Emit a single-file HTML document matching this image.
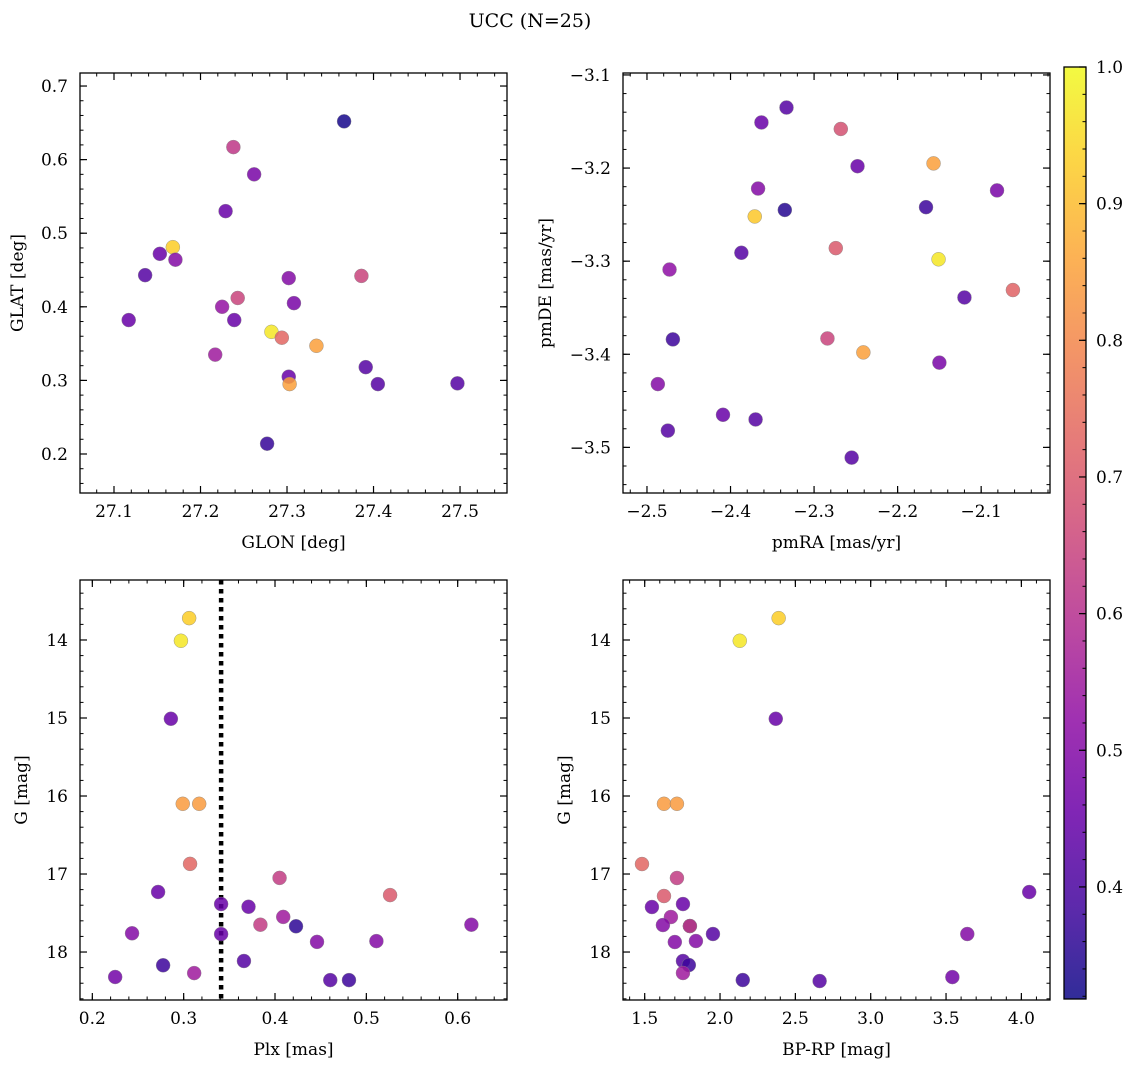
<!DOCTYPE html>
<html><head><meta charset="utf-8">
<style>
html,body{margin:0;padding:0;background:#fff;}
svg{display:block;font-family:"DejaVu Serif","Liberation Serif",serif;}
</style></head>
<body>
<svg id="fig" width="1136" height="1067" viewBox="0 0 1136 1067" xmlns="http://www.w3.org/2000/svg">
<defs>
<linearGradient id="cbgrad" x1="0" y1="1" x2="0" y2="0">
<stop offset="0" stop-color="#0d0887"/><stop offset="0.1" stop-color="#41049d"/><stop offset="0.2" stop-color="#6a00a8"/><stop offset="0.3" stop-color="#8f0da4"/><stop offset="0.4" stop-color="#b12a90"/><stop offset="0.5" stop-color="#cc4778"/><stop offset="0.6" stop-color="#e16462"/><stop offset="0.7" stop-color="#f2844b"/><stop offset="0.8" stop-color="#fca636"/><stop offset="0.9" stop-color="#fcce25"/><stop offset="1" stop-color="#f0f921"/>
</linearGradient>
</defs>
<text x="530" y="27" font-size="19" text-anchor="middle">UCC (N=25)</text>
</svg>
<script>
// ---- data ----
const glon = [27.366,27.238,27.262,27.229,27.168,27.153,27.171,27.136,27.386,27.302,27.243,27.308,27.225,27.117,27.239,27.282,27.294,27.334,27.217,27.391,27.302,27.303,27.405,27.497,27.277];
const glat = [0.652,0.617,0.580,0.530,0.481,0.472,0.464,0.443,0.442,0.439,0.412,0.405,0.400,0.382,0.382,0.366,0.358,0.347,0.335,0.318,0.305,0.295,0.295,0.296,0.214];
const probA = [0.33,0.62,0.48,0.45,0.93,0.45,0.50,0.42,0.65,0.50,0.65,0.48,0.53,0.45,0.45,0.97,0.73,0.85,0.55,0.42,0.45,0.85,0.42,0.42,0.37];

const pmra = [-2.333,-2.363,-2.268,-2.248,-2.157,-2.367,-2.081,-2.371,-2.335,-2.166,-2.274,-2.387,-2.151,-2.473,-2.062,-2.120,-2.469,-2.284,-2.241,-2.150,-2.487,-2.409,-2.475,-2.370,-2.255];
const pmde = [-3.135,-3.151,-3.158,-3.198,-3.195,-3.222,-3.224,-3.252,-3.245,-3.242,-3.286,-3.291,-3.298,-3.309,-3.331,-3.339,-3.384,-3.383,-3.398,-3.409,-3.432,-3.465,-3.482,-3.470,-3.511];
const probB = [0.42,0.45,0.68,0.45,0.85,0.50,0.48,0.92,0.35,0.38,0.70,0.42,0.97,0.52,0.72,0.42,0.38,0.65,0.85,0.48,0.50,0.45,0.42,0.42,0.42];

const plx = [0.306,0.297,0.286,0.299,0.317,0.307,0.405,0.272,0.341,0.371,0.526,0.615,0.409,0.384,0.423,0.2435,0.341,0.446,0.511,0.366,0.2775,0.3115,0.225,0.4605,0.481];
const gmagC = [13.72,14.01,15.01,16.10,16.10,16.87,17.05,17.23,17.385,17.42,17.27,17.65,17.55,17.65,17.67,17.76,17.77,17.87,17.86,18.115,18.17,18.27,18.32,18.36,18.36];
const probC = [0.93,0.97,0.45,0.84,0.84,0.73,0.63,0.45,0.45,0.45,0.70,0.50,0.55,0.63,0.36,0.50,0.45,0.50,0.50,0.42,0.38,0.55,0.47,0.42,0.38];
const plxLine = 0.341;

const bprp = [1.482,1.714,1.628,1.548,1.754,1.674,1.621,1.800,1.800,1.953,1.700,1.840,1.754,1.793,1.754,2.151,2.661,3.542,3.641,4.052,2.389,2.131,2.370,1.628,1.714];
const gmagD = [16.872,17.051,17.282,17.423,17.385,17.551,17.654,17.667,17.667,17.769,17.872,17.859,18.115,18.167,18.269,18.359,18.372,18.321,17.769,17.231,13.72,14.01,15.01,16.10,16.10];
const probD = [0.73,0.63,0.70,0.45,0.45,0.55,0.50,0.36,0.63,0.42,0.50,0.50,0.42,0.38,0.55,0.38,0.42,0.47,0.50,0.45,0.93,0.97,0.45,0.84,0.84];

const ticksA_x = [27.1,27.2,27.3,27.4,27.5];
const ticksA_y = [0.2,0.3,0.4,0.5,0.6,0.7];
const ticksB_x = [-2.5,-2.4,-2.3,-2.2,-2.1];
const ticksB_y = [-3.5,-3.4,-3.3,-3.2,-3.1];
const ticksC_x = [0.2,0.3,0.4,0.5,0.6];
const ticksG = [14,15,16,17,18];
const ticksD_x = [1.5,2.0,2.5,3.0,3.5,4.0];
const ticksCb = [0.4,0.5,0.6,0.7,0.8,0.9,1.0];

const VMIN = 0.318, VMAX = 1.0;
const NS = "http://www.w3.org/2000/svg";
const svg = document.getElementById('fig');
const stops = [[13,8,135],[65,4,157],[106,0,168],[143,13,164],[177,42,144],[204,71,120],[225,100,98],[242,132,75],[252,166,54],[252,206,37],[240,249,33]];
function plasma(v){
  let t=(v-VMIN)/(VMAX-VMIN); t=Math.max(0,Math.min(1,t));
  const f=t*10, i=Math.min(9,Math.floor(f)), r=f-i;
  const c=stops[i].map((a,k)=>Math.round(a+(stops[i+1][k]-a)*r));
  return `rgb(${c[0]},${c[1]},${c[2]})`;
}
function el(tag, attrs, parent){
  const e=document.createElementNS(NS,tag);
  for(const k in attrs) e.setAttribute(k,attrs[k]);
  (parent||svg).appendChild(e); return e;
}
function fmt(v,d){ const s=v.toFixed(d); return v<0 ? '\u2212'+s.slice(1) : s; }

function panel(o){
  const g=el('g',{});
  
  
  const sx=v=>o.x0+(v-o.xmin)/(o.xmax-o.xmin)*(o.x1-o.x0);
  const sy=o.invert ? v=>o.y0+(v-o.ymin)/(o.ymax-o.ymin)*(o.y1-o.y0)
                    : v=>o.y1-(v-o.ymin)/(o.ymax-o.ymin)*(o.y1-o.y0);
  const xm=o.xstep/5, ym=o.ystep/5;
  for(let k=Math.ceil(o.xmin/xm-1e-6); k*xm<=o.xmax+1e-9; k++){
    const x=sx(k*xm);
    el('line',{x1:x,x2:x,y1:o.y1,y2:o.y1-3.5,stroke:'#000','stroke-width':1},g);
    el('line',{x1:x,x2:x,y1:o.y0,y2:o.y0+3.5,stroke:'#000','stroke-width':1},g);
  }
  const ylo=Math.min(o.ymin,o.ymax), yhi=Math.max(o.ymin,o.ymax);
  for(let k=Math.ceil(ylo/ym-1e-6); k*ym<=yhi+1e-9; k++){
    const y=sy(k*ym);
    el('line',{x1:o.x0,x2:o.x0+3.5,y1:y,y2:y,stroke:'#000','stroke-width':1},g);
    el('line',{x1:o.x1,x2:o.x1-3.5,y1:y,y2:y,stroke:'#000','stroke-width':1},g);
  }
  o.xt.forEach(v=>{
    const x=sx(v);
    el('line',{x1:x,x2:x,y1:o.y1,y2:o.y1-7,stroke:'#000','stroke-width':1.2},g);
    el('line',{x1:x,x2:x,y1:o.y0,y2:o.y0+7,stroke:'#000','stroke-width':1.2},g);
    const t=el('text',{x:x,y:o.y1+24,'font-size':17,'text-anchor':'middle'},g);
    
    
    t.textContent=fmt(v,o.xd);
  });
  o.yt.forEach(v=>{
    const y=sy(v);
    el('line',{x1:o.x0,x2:o.x0+7,y1:y,y2:y,stroke:'#000','stroke-width':1.2},g);
    el('line',{x1:o.x1,x2:o.x1-7,y1:y,y2:y,stroke:'#000','stroke-width':1.2},g);
    const t=el('text',{x:o.x0-12,y:y+6,'font-size':17,'text-anchor':'end'},g);
    
    
    t.textContent=fmt(v,o.yd);
  });
  if(o.vline!==undefined){
    const x=sx(o.vline);
    const l=el('line',{x1:x,x2:x,y1:o.y0,y2:o.y1,stroke:'#000','stroke-width':4.5,'stroke-dasharray':'4.5 4.5'},g);
    
    
  }
  o.xs.forEach((v,i)=>{
    const c=el('circle',{cx:sx(v),cy:sy(o.ys[i]),r:7,fill:plasma(o.cs[i]),'fill-opacity':0.85,stroke:'#888','stroke-width':0.4},g);
    
    
  });
  const fr=el('rect',{x:o.x0,y:o.y0,width:o.x1-o.x0,height:o.y1-o.y0,fill:'none',stroke:'#000','stroke-width':1.3},g);
  
  
  const xl=el('text',{x:(o.x0+o.x1)/2,y:o.y1+55,'font-size':17,'text-anchor':'middle'},g);
  
  
  xl.textContent=o.xlabel;
  const cy=(o.y0+o.y1)/2;
  const yl=el('text',{x:o.ylx,y:cy,'font-size':17,'text-anchor':'middle',transform:`rotate(-90 ${o.ylx} ${cy})`},g);
  
  
  yl.textContent=o.ylabel;
}

panel({name:'glon-glat-panel',x0:80,x1:507,y0:73,y1:493,xmin:27.0607,xmax:27.5543,ymin:0.147,ymax:0.7177,xstep:0.1,ystep:0.1,xt:ticksA_x,yt:ticksA_y,xd:1,yd:1,xs:glon,ys:glat,cs:probA,xlabel:'GLON [deg]',ylabel:'GLAT [deg]',ylx:23});
panel({name:'pm-panel',x0:623,x1:1050,y0:73,y1:493,xmin:-2.5287,xmax:-2.0176,ymin:-3.549,ymax:-3.0979,xstep:0.1,ystep:0.1,xt:ticksB_x,yt:ticksB_y,xd:1,yd:1,xs:pmra,ys:pmde,cs:probB,xlabel:'pmRA [mas/yr]',ylabel:'pmDE [mas/yr]',ylx:551});
panel({name:'plx-g-panel',x0:80,x1:507,y0:580,y1:1000,xmin:0.1865,xmax:0.654,ymin:13.231,ymax:18.615,invert:true,xstep:0.1,ystep:1,xt:ticksC_x,yt:ticksG,xd:1,yd:0,xs:plx,ys:gmagC,cs:probC,vline:plxLine,xlabel:'Plx [mas]',ylabel:'G [mag]',ylx:27});
panel({name:'cmd-panel',x0:623,x1:1050,y0:580,y1:1000,xmin:1.356,xmax:4.19,ymin:13.231,ymax:18.615,invert:true,xstep:0.5,ystep:1,xt:ticksD_x,yt:ticksG,xd:1,yd:0,xs:bprp,ys:gmagD,cs:probD,xlabel:'BP-RP [mag]',ylabel:'G [mag]',ylx:570});

// colorbar
const cb=el('g',{});


const cbx0=1064,cbx1=1086,cby0=67,cby1=999;
el('rect',{x:cbx0,y:cby0,width:cbx1-cbx0,height:cby1-cby0,fill:'url(#cbgrad)','fill-opacity':0.85},cb);
const cbY=v=>cby1-(v-VMIN)/(VMAX-VMIN)*(cby1-cby0);
for(let k=16; k<=50; k++){
  const y=cbY(k*0.02);
  el('line',{x1:cbx1,x2:cbx1-3.5,y1:y,y2:y,stroke:'#000','stroke-width':1},cb);
}
ticksCb.forEach(v=>{
  const y=cbY(v);
  el('line',{x1:cbx1,x2:cbx1-7,y1:y,y2:y,stroke:'#000','stroke-width':1.2},cb);
  const t=el('text',{x:1096,y:y+6,'font-size':17},cb);
  
  
  t.textContent=v.toFixed(1);
});
el('rect',{x:cbx0,y:cby0,width:cbx1-cbx0,height:cby1-cby0,fill:'none',stroke:'#000','stroke-width':1.3},cb);
</script>
</body></html>
